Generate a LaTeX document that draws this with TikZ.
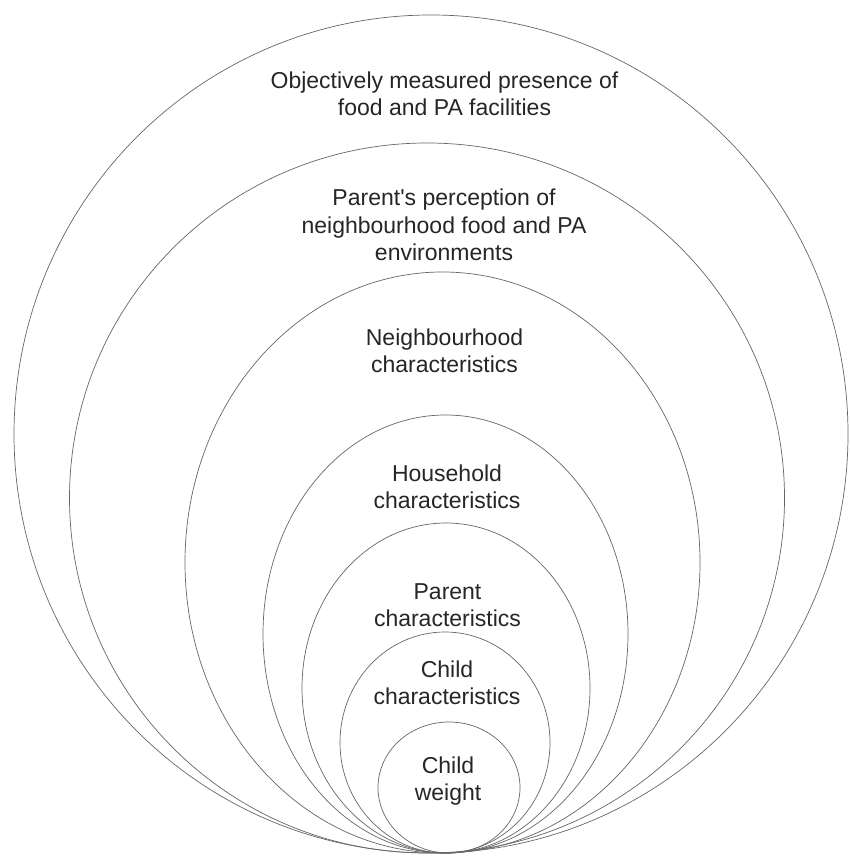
\documentclass[tikz,border=0pt]{standalone}
\usepackage{fontspec}
\setmainfont{Liberation Sans}
\begin{document}
\begin{tikzpicture}[x=1pt,y=-1pt,
  ring/.style={draw=black!60, line width=0.7pt},
  lab/.style={align=center, text=black!85, inner sep=0pt,
    font=\fontsize{23}{27.5}\selectfont}]
\useasboundingbox[fill=white] (0,0) rectangle (849,858);
% nested rings (centre x, centre y, x radius, y radius)
\draw[ring] (431,434) ellipse [x radius=417, y radius=419];
\draw[ring] (427,498) ellipse [x radius=357.5, y radius=355];
\draw[ring] (442.5,562.5) ellipse [x radius=257.5, y radius=290.5];
\draw[ring] (445.5,634) ellipse [x radius=182.5, y radius=219];
\draw[ring] (446,688) ellipse [x radius=144, y radius=165];
\draw[ring] (445,742.5) ellipse [x radius=105, y radius=110.5];
\draw[ring] (449,787.5) ellipse [x radius=71, y radius=65.5];
% labels
\node[lab] (t1) at (444.5,94) {Objectively measured presence of\\food and PA facilities};
\node[lab] (t2) at (444,225) {Parent\textquotesingle s perception of\\neighbourhood food and PA\\environments};
\node[lab] (t3) at (444.5,351) {Neighbourhood\\characteristics};
\node[lab] (t4) at (447,487) {Household\\characteristics};
\node[lab] (t5) at (447.5,605) {Parent\\characteristics};
\node[lab] (t6) at (447,683) {Child\\characteristics};
\node[lab] (t7) at (448,781) {Child\\weight};
\end{tikzpicture}
\end{document}
